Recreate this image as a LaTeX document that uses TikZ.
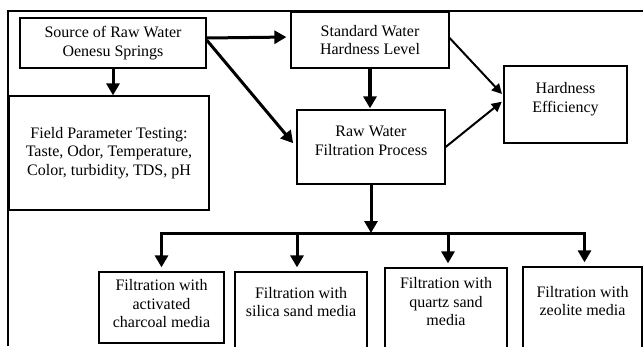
\documentclass[tikz,border=0pt]{standalone}
\usepackage{fontspec}
\setmainfont{Liberation Serif}
\usetikzlibrary{arrows.meta}

\tikzset{
  box/.style={draw, line width=1.3pt, inner sep=0pt},
  txt/.style={align=center, inner sep=0pt, font=\fontsize{16}{18.5}\selectfont},
  fat/.style={-{Triangle[length=12pt,width=13pt]}, line width=3pt},
  slim/.style={-{Triangle[length=10pt,width=10pt]}, line width=2pt},
}

\begin{document}
\begin{tikzpicture}[x=1pt,y=-1pt]
        \useasboundingbox (0,0) rectangle (643,346);
        \clip (0,0) rectangle (643,346);

        % frame
        \draw[line width=2pt] (8,346) -- (8,11) -- (643,11);

        % top part
        \node[box, minimum width=186pt, minimum height=50pt] (src) at (113,43) {};
        \node[box, minimum width=200pt, minimum height=114pt] (field) at (109,153) {};
        \node[box, minimum width=158pt, minimum height=56pt] (std) at (370,40) {};
        \node[box, minimum width=148pt, minimum height=74pt] (raw) at (371,147) {};
        \node[box, minimum width=123pt, minimum height=77pt] (hard) at (565.5,104.5) {};

        \node[txt] (srctxt) at (113,43) {Source of Raw Water\\Oenesu Springs};
        \node[txt] (fieldtxt) at (109,153) {Field Parameter Testing:\\Taste, Odor, Temperature,\\Color, turbidity, TDS, pH};
        \node[txt] (stdtxt) at (370,40) {Standard Water\\Hardness Level};
        \node[txt] (rawtxt) at (371,141) {Raw Water\\Filtration Process};
        \node[txt] (hardtxt) at (565.5,99) {Hardness\\Efficiency};

        % filtration media
        \node[box, minimum width=125pt, minimum height=71pt] (charcoal) at (161.5,307.5) {};
        \node[box, minimum width=132pt, minimum height=88pt] (silica) at (301,316) {};
        \node[box, minimum width=122pt, minimum height=92pt] (quartz) at (446,314) {};
        \node[box, minimum width=119pt, minimum height=92pt] (zeolite) at (582.5,313) {};

        \node[txt] (charcoaltxt) at (161.5,304) {Filtration with\\activated\\charcoal media};
        \node[txt] (silicatxt) at (301,302) {Filtration with\\silica sand media};
        \node[txt] (quartztxt) at (446,302) {Filtration with\\quartz sand\\media};
        \node[txt] (zeolitetxt) at (582.5,301) {Filtration with\\zeolite media};

        \coordinate (split) at (371,233);

        % arrows
        \draw[fat] (src.south) -- (src.south |- field.north);
        \draw[fat, shorten >=4pt] ([yshift=5pt]src.east) -- ([yshift=3pt]std.west);
        \draw[fat, shorten >=5pt] ([yshift=3pt]src.east) -- (raw.west);
        \draw[fat, line width=4.5pt, shorten >=1pt] (std.south) -- (std.south |- raw.north);
        \draw[slim, shorten >=2pt] ([yshift=2pt]std.east) -- ([yshift=9pt]hard.west);
        \draw[slim, shorten >=2pt] (raw.east) -- ([yshift=4pt]hard.west);
        \draw[fat] (raw.south) -- (split);

        \draw[fat, shorten >=4pt] (split) -| (charcoal.north);
        \draw[fat, shorten >=4pt] (split) -| ([xshift=-4pt]silica.north);
        \draw[fat, shorten >=4pt] (split) -| ([xshift=2pt]quartz.north);
        \draw[fat, shorten >=4pt] (split) -| ([xshift=2pt]zeolite.north);
\end{tikzpicture}
\end{document}
